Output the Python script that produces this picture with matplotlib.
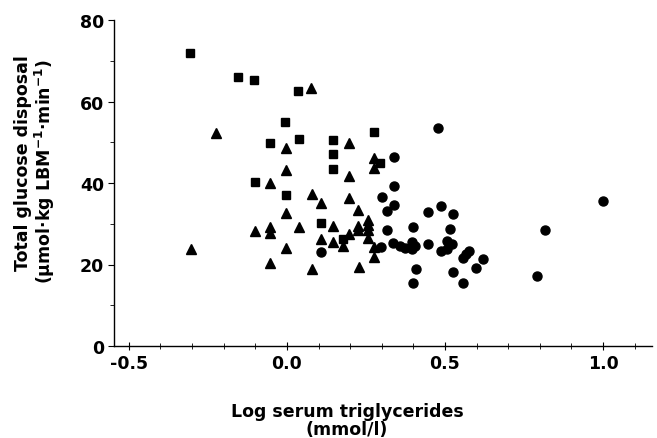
import matplotlib
matplotlib.use("Agg")
import matplotlib.pyplot as plt
from matplotlib.ticker import MultipleLocator

plt.rcParams['font.family'] = ['DejaVu Sans']
plt.rcParams['font.weight'] = 'bold'
plt.rcParams['mathtext.fontset'] = 'custom'
plt.rcParams['mathtext.rm'] = 'DejaVu Sans:bold'
plt.rcParams['mathtext.bf'] = 'DejaVu Sans:bold'
plt.rcParams['mathtext.default'] = 'bf'

# Squares
sq_x = [-0.307, -0.154, -0.104, 0.034, -0.005, -0.054, 0.037, 0.146, 0.146, 0.146,
        0.277, 0.296, -0.101, -0.003, 0.108, 0.176]
sq_y = [71.9, 65.9, 65.2, 62.5, 54.9, 49.7, 50.7, 50.5, 47.0, 43.5,
        52.4, 45.0, 40.2, 37.1, 30.3, 26.3]

# Triangles
tr_x = [0.076, -0.223, -0.003, -0.003, -0.052, 0.197, 0.197, 0.277, 0.277, 0.078,
        0.108, 0.197, -0.004, 0.226, 0.146, 0.037, -0.052, -0.052, -0.102, 0.226,
        0.226, 0.257, 0.257, 0.257, 0.257, 0.108, 0.147, 0.197, 0.176, -0.004,
        -0.304, 0.276, 0.276, -0.052, 0.078, 0.228]
tr_y = [63.2, 52.3, 48.5, 43.3, 40.1, 49.9, 41.7, 46.2, 43.6, 37.2,
        35.0, 36.2, 32.7, 33.4, 29.4, 29.2, 29.2, 27.7, 28.1, 29.5,
        28.5, 30.8, 29.6, 28.5, 26.6, 26.2, 25.6, 27.4, 24.5, 24.0,
        23.9, 24.4, 21.8, 20.4, 18.8, 19.5]

# Circles
ci_x = [0.477, 0.339, 0.339, 0.300, 0.340, 0.317, 0.446, 0.488, 0.526, 0.517,
        0.398, 0.317, 0.107, 0.297, 0.336, 0.358, 0.373, 0.397, 0.397, 0.405,
        0.446, 0.488, 0.505, 0.521, 0.505, 0.558, 0.575, 0.565, 0.619, 0.598,
        0.527, 0.558, 0.407, 0.398, 0.818, 0.790, 1.001]
ci_y = [53.4, 46.4, 39.2, 36.5, 34.5, 33.1, 32.9, 34.3, 32.5, 28.8,
        29.3, 28.4, 23.1, 24.4, 25.2, 24.5, 24.1, 25.5, 23.9, 24.5,
        25.1, 23.3, 25.7, 25.1, 23.9, 21.7, 23.3, 22.6, 21.3, 19.2,
        18.1, 15.5, 19.0, 15.4, 28.4, 17.3, 35.6]

x_ticks = [-0.5, 0.0, 0.5, 1.0]
x_ticklabels = ["-0.5", "0.0", "0.5", "1.0"]
y_ticks = [0, 20, 40, 60, 80]

fig = plt.figure(figsize=(6.57, 4.39), dpi=100)
ax = fig.add_axes([114/657, 1-347/439, (652-114)/657, (347-21)/439])

ax.plot(sq_x, sq_y, 's', color='black', markersize=6, linestyle='none')
ax.plot(tr_x, tr_y, '^', color='black', markersize=6.5, linestyle='none')
ax.plot(ci_x, ci_y, 'o', color='black', markersize=6.5, linestyle='none')

ax.set_xlim(-0.547, 1.155)
ax.set_ylim(0, 80)

for s in ['top', 'right']:
    ax.spines[s].set_visible(False)
for s in ['left', 'bottom']:
    ax.spines[s].set_linewidth(1.0)

ax.set_xticks(x_ticks)
ax.set_xticklabels(x_ticklabels)
ax.set_yticks(y_ticks)
ax.xaxis.set_minor_locator(MultipleLocator(0.1))
ax.yaxis.set_minor_locator(MultipleLocator(10))
ax.tick_params(axis='x', which='major', direction='inout', length=6, width=0.8, pad=3, labelsize=12.5)
ax.tick_params(axis='x', which='minor', direction='inout', length=4, width=0.6)
ax.tick_params(axis='y', which='major', direction='out', length=4, width=0.8, pad=3, labelsize=12.5)
ax.tick_params(axis='y', which='minor', direction='out', length=3, width=0.6)

fig.text(347/657, 1-421/439, "Log serum triglycerides\n(mmol/l)", ha='center', va='center',
         multialignment='center', linespacing=1.0, fontsize=12.5, fontweight='bold')
fig.text(23/657, 1-163/439, "Total glucose disposal", rotation=90, ha='center', va='center', fontsize=12.5, fontweight='bold')
fig.text(45/657, 1-171/439, r"(μmol·kg LBM$^{-1}$·min$^{-1}$)", rotation=90, ha='center', va='center', fontsize=12.5, fontweight='bold')

fig.savefig("out.png", dpi=100)
